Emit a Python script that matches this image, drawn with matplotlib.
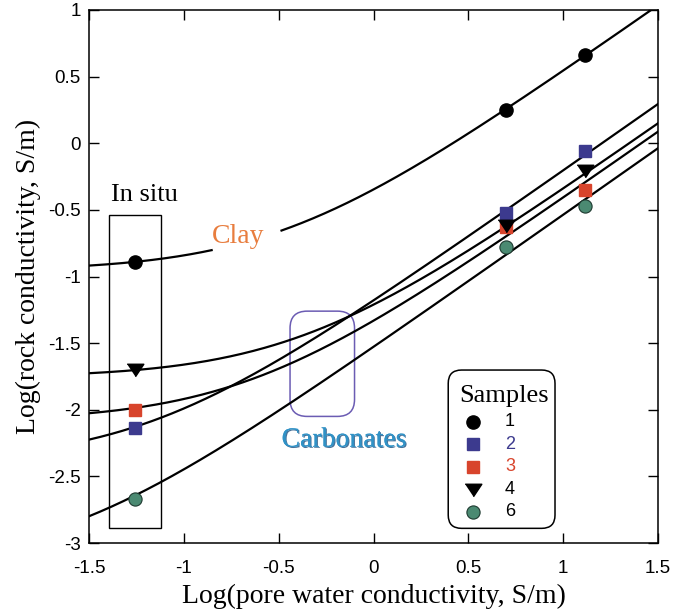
"""Rock conductivity vs pore water conductivity, in situ and lab points
with the linear (sigma = sigma_w / F + sigma_s) model curves."""

import matplotlib

matplotlib.use("Agg")

import matplotlib.pyplot as plt
import matplotlib.patheffects as pe
import numpy as np
from matplotlib.patches import FancyBboxPatch, Rectangle

# log10 pore water conductivity: in situ, then the two lab brines
log_sw = [-1.26, 0.70, 1.115]

samples = ["1", "2", "3", "4", "6"]
log_s1 = [-0.89, 0.25, 0.66]
log_s2 = [-2.14, -0.52, -0.06]
log_s3 = [-2.00, -0.63, -0.35]
log_s4 = [-1.70, -0.62, -0.21]
log_s6 = [-2.67, -0.78, -0.47]

# model parameters: 1/F and surface conductivity
inv_F = [0.34, 0.0622, 0.0384, 0.0441, 0.029]
sigma_s = [0.11, 0.0040, 0.0082, 0.0174, 0.00067]

BLUE = "#3c3a8e"
RED = "#d8442c"
GREEN = "#4b8a72"
ORANGE = "#e87d3e"
# wide, flat down-pointing triangle like the original symbol
TRI = [(-1, 0.75), (1, 0.75), (0, -0.75)]
STYLES = [
    dict(marker="o", color="black", mec="black", ms=9.5),
    dict(marker="s", color=BLUE, mec=BLUE, ms=9),
    dict(marker="s", color=RED, mec=RED, ms=9),
    dict(marker=TRI, color="black", mec="black", ms=12),
    dict(marker="o", color=GREEN, mec="#1e3a30", ms=9.5, mew=0.8),
]
LABEL_COLORS = ["black", BLUE, RED, "black", "black"]

SANS = "Liberation Sans"
SERIF = "Liberation Serif"


def main() -> None:
    fig = plt.figure(figsize=(6.94, 6.15), dpi=100)
    ax = fig.add_axes([89 / 694, 72 / 615, 569 / 694, 533 / 615])

    x = np.linspace(-1.5, 1.5, 400)
    clay_gap = (-0.85, -0.49)
    all_y = [log_s1, log_s2, log_s3, log_s4, log_s6]
    for i in range(len(samples)):
        y = np.log10(inv_F[i] * 10**x + sigma_s[i])
        if i == 0:
            y = np.ma.masked_where((x > clay_gap[0]) & (x < clay_gap[1]), y)
        ax.plot(x, y, color="black", lw=1.6, zorder=2)
    for i in range(len(samples)):
        ax.plot(log_sw, all_y[i], ls="none", zorder=3, **STYLES[i])

    ax.set_xlim(-1.5, 1.5)
    ax.set_ylim(-3, 1)
    ax.set_xticks(np.arange(-1.5, 1.51, 0.5))
    ax.set_yticks(np.arange(-3, 1.01, 0.5))
    ax.set_xticklabels(["-1.5", "-1", "-0.5", "0", "0.5", "1", "1.5"])
    ax.set_yticklabels(["-3", "-2.5", "-2", "-1.5", "-1", "-0.5", "0", "0.5", "1"])
    ax.tick_params(direction="in", length=7, width=1, top=True, right=True,
                   labelsize=13.5)
    ax.tick_params(axis="x", pad=12)
    ax.tick_params(axis="y", pad=6)
    for lab in ax.get_xticklabels() + ax.get_yticklabels():
        lab.set_fontfamily(SANS)
    for sp in ax.spines.values():
        sp.set_linewidth(1.1)

    ax.set_xlabel("Log(pore water conductivity, S/m)", fontfamily=SERIF,
                  fontsize=20, labelpad=5)
    ax.set_ylabel("Log(rock conductivity, S/m)", fontfamily=SERIF,
                  fontsize=20, labelpad=5)

    # in situ box
    ax.add_patch(Rectangle((-1.394, -2.888), 0.2735, 2.35, fill=False,
                           lw=1, ec="black", zorder=1))
    ax.text(-1.21, -0.431, "In situ", fontfamily=SERIF, fontsize=19,
            ha="center", va="baseline")

    ax.text(-0.712, -0.751, "Clay", fontfamily=SERIF, fontsize=20,
            color=ORANGE, ha="center", va="baseline")

    # carbonates box
    aspect = 189.67 / 133.25
    ax.add_patch(FancyBboxPatch((-0.44, -2.05), 0.34, 0.79,
                                boxstyle="round,pad=0,rounding_size=0.09",
                                mutation_aspect=aspect, fill=False,
                                ec="#6b5cb3", lw=1.1, zorder=1))
    ax.text(-0.156, -2.277, "Carbonates", fontfamily=SERIF, fontsize=20,
            color="#3192c6", ha="center", va="baseline",
            path_effects=[pe.withSimplePatchShadow(offset=(0.8, -0.8),
                                                   shadow_rgbFace="#1c4f80",
                                                   alpha=0.8),
                          pe.Normal()])

    # hand-drawn legend box
    ax.add_patch(FancyBboxPatch((0.394, -2.89), 0.563, 1.188,
                                boxstyle="round,pad=0,rounding_size=0.07",
                                mutation_aspect=aspect, fill=True, fc="white",
                                ec="black", lw=1.1, zorder=4))
    ax.text(0.688, -1.94, "Samples", fontfamily=SERIF, fontsize=19,
            ha="center", va="baseline", zorder=5)
    rows = [-2.09, -2.26, -2.427, -2.602, -2.765]
    for i, name in enumerate(samples):
        ax.plot([0.526], [rows[i]], ls="none", zorder=5, **STYLES[i])
        ax.text(0.72, rows[i], name, fontfamily=SANS, fontsize=13,
                color=LABEL_COLORS[i], ha="center", va="center", zorder=5)

    fig.savefig("out.png", dpi=100)
    plt.close(fig)


if __name__ == "__main__":
    main()
